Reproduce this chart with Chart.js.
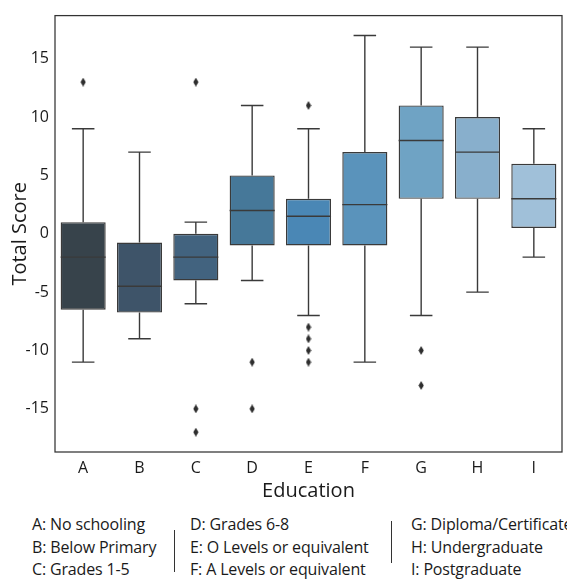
<!DOCTYPE html>
<html>
<head>
<meta charset="utf-8">
<script src="https://cdn.jsdelivr.net/npm/chart.js@4"></script>
<style>
  body { margin: 0; background: #fff; }
  #wrap { position: relative; width: 567px; height: 580px; font-family: "Open Sans", sans-serif; color: #1a1a1a; }
  #chartBox { position: absolute; left: 0; top: 0; width: 567px; height: 505px; }
  .key { position: absolute; font-size: 16px; line-height: 22.5px; white-space: nowrap; letter-spacing: -0.15px; }
  .sep { position: absolute; width: 1px; background: #333; }
</style>
</head>
<body>
<div id="wrap">
  <div id="chartBox"><canvas id="myChart"></canvas></div>
  <div class="key" style="left:32px; top:513px;">A: No schooling<br>B: Below Primary<br>C: Grades 1-5</div>
  <div class="sep" style="left:174px; top:530px; height:42px;"></div>
  <div class="key" style="left:190px; top:513px;">D: Grades 6-8<br>E: O Levels or equivalent<br>F: A Levels or equivalent</div>
  <div class="sep" style="left:391px; top:521px; height:42px;"></div>
  <div class="key" style="left:411px; top:513px;">G: Diploma/Certificate<br>H: Undergraduate<br>I: Postgraduate</div>
</div>
<script>
var labels = ["A", "B", "C", "D", "E", "F", "G", "H", "I"];
var q1 = [-6.5, -6.75, -4, -1, -1, -1, 3, 3, 0.5];
var medians = [-2, -4.5, -2, 2, 1.5, 2.5, 8, 7, 3];
var q3 = [1, -0.75, 0, 5, 3, 7, 11, 10, 6];
var whiskerLow = [-11, -9, -6, -4, -7, -11, -7, -5, -2];
var whiskerHigh = [9, 7, 1, 11, 9, 17, 16, 16, 9];
var outliers = [[13], [], [13, -15, -17], [-11, -15], [11, -8, -9, -10, -11], [], [-10, -13], [], []];
var yTicks = [-15, -10, -5, 0, 5, 10, 15];

var boxColors = ["#37434b", "#3e5469", "#42637f", "#467899", "#4a87b5", "#5a93bb", "#6fa3c4", "#88afcc", "#a0c0d9"];
var lineColor = "#3a3a3a";

// thin diamond marker like seaborn "d"
var diamond = document.createElement("canvas");
diamond.width = 6;
diamond.height = 9;
var dctx = diamond.getContext("2d");
dctx.fillStyle = "#2e2e2e";
dctx.beginPath();
dctx.moveTo(3, 0);
dctx.lineTo(5.6, 4.5);
dctx.lineTo(3, 9);
dctx.lineTo(0.4, 4.5);
dctx.closePath();
dctx.fill();

var outlierPoints = [];
outliers.forEach((list, i) => {
  list.forEach((v) => outlierPoints.push({ x: labels[i], y: v }));
});

var boxPlugin = {
  id: "boxParts",
  beforeDatasetsDraw: (chart) => {
    var ctx = chart.ctx;
    var xs = chart.scales.x;
    var ys = chart.scales.y;
    var meta = chart.getDatasetMeta(0);
    ctx.save();
    ctx.strokeStyle = lineColor;
    ctx.lineWidth = 1.4;
    for (let i = 0; i < labels.length; i++) {
      var cx = xs.getPixelForValue(i);
      var half = meta.data[i].width / 4;
      var yLo = ys.getPixelForValue(whiskerLow[i]);
      var yHi = ys.getPixelForValue(whiskerHigh[i]);
      var yQ1 = ys.getPixelForValue(q1[i]);
      var yQ3 = ys.getPixelForValue(q3[i]);
      ctx.beginPath();
      ctx.moveTo(cx, yQ3);
      ctx.lineTo(cx, yHi);
      ctx.moveTo(cx - half, yHi);
      ctx.lineTo(cx + half, yHi);
      ctx.moveTo(cx, yQ1);
      ctx.lineTo(cx, yLo);
      ctx.moveTo(cx - half, yLo);
      ctx.lineTo(cx + half, yLo);
      ctx.stroke();
    }
    ctx.restore();
  },
  afterDatasetsDraw: (chart) => {
    var ctx = chart.ctx;
    var xs = chart.scales.x;
    var ys = chart.scales.y;
    var meta = chart.getDatasetMeta(0);
    var area = chart.chartArea;
    ctx.save();
    ctx.strokeStyle = lineColor;
    ctx.lineWidth = 1.4;
    for (let i = 0; i < labels.length; i++) {
      var cx = xs.getPixelForValue(i);
      var half = meta.data[i].width / 2;
      var ym = ys.getPixelForValue(medians[i]);
      ctx.beginPath();
      ctx.moveTo(cx - half, ym);
      ctx.lineTo(cx + half, ym);
      ctx.stroke();
    }
    // frame round the plot
    ctx.strokeStyle = "#333";
    ctx.lineWidth = 1.25;
    ctx.strokeRect(area.left, area.top, area.right - area.left, area.bottom - area.top);
    ctx.restore();
  },
};

createChart = () => {
  const ctx = document.getElementById("myChart").getContext("2d");
  const myBoxChart = new Chart(ctx, {
    type: "bar",
    data: {
      labels: labels,
      datasets: [
        {
          data: q1.map((v, i) => [v, q3[i]]),
          backgroundColor: boxColors,
          borderColor: lineColor,
          borderWidth: 1.4,
          borderSkipped: false,
          categoryPercentage: 0.8,
          barPercentage: 1,
          order: 2,
        },
        {
          type: "scatter",
          data: outlierPoints,
          pointStyle: diamond,
          order: 1,
        },
      ],
    },
    options: {
      responsive: true,
      maintainAspectRatio: false,
      animation: false,
      layout: { padding: { top: 6, right: 2, left: 0, bottom: 0 } },
      plugins: { legend: { display: false }, tooltip: { enabled: false } },
      scales: {
        x: {
          type: "category",
          grid: { display: false, drawTicks: false },
          border: { display: false },
          ticks: { color: "#1a1a1a", font: { family: "Open Sans", size: 16 }, padding: 7 },
          title: {
            display: true,
            text: "Education",
            color: "#1a1a1a",
            font: { family: "Open Sans", size: 20 },
            padding: { top: 0, bottom: 2 },
          },
          afterFit: (scale) => {
            scale.height = 53;
          },
        },
        y: {
          min: -18.7,
          max: 18.7,
          grid: { display: false, drawTicks: false },
          border: { display: false },
          afterBuildTicks: (scale) => {
            scale.ticks = yTicks.map((v) => ({ value: v }));
          },
          ticks: {
            color: "#1a1a1a",
            font: { family: "Open Sans", size: 16 },
            padding: 6,
            callback: (v) => String(v),
          },
          title: {
            display: true,
            text: "Total Score",
            color: "#1a1a1a",
            font: { family: "Open Sans", size: 20 },
            padding: { top: 8, bottom: 0 },
          },
          afterFit: (scale) => {
            scale.width = 55;
          },
        },
      },
    },
    plugins: [boxPlugin],
  });
};

createChart();
</script>
</body>
</html>
